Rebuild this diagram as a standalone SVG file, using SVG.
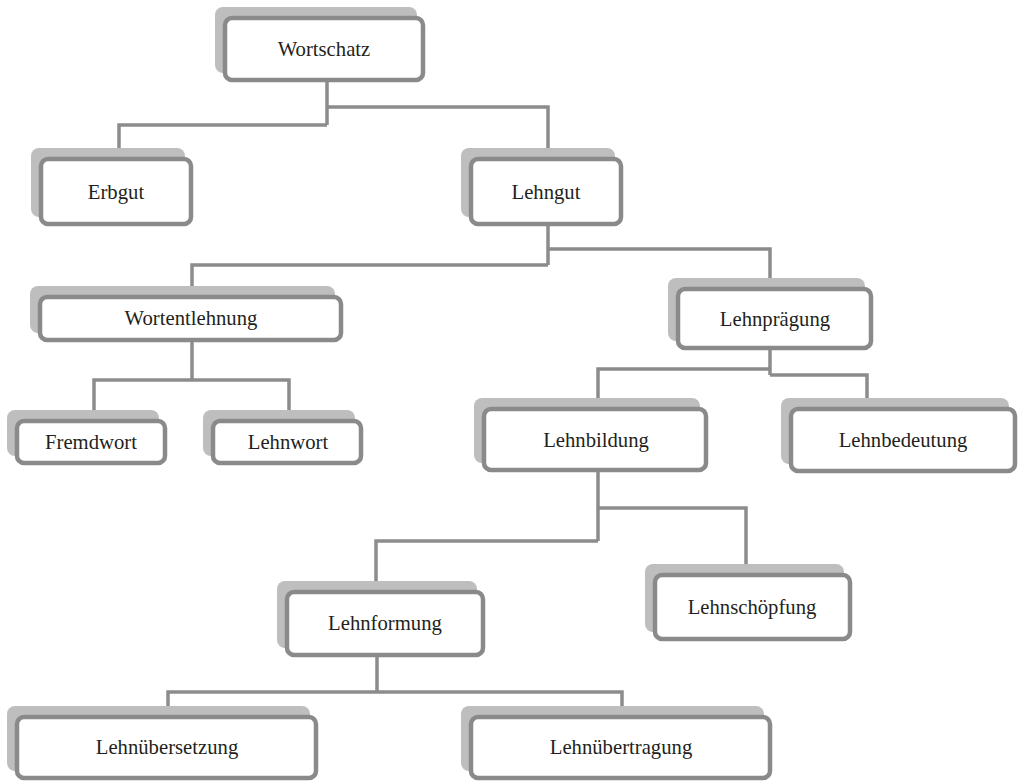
<svg xmlns="http://www.w3.org/2000/svg" width="1019" height="782" viewBox="0 0 1019 782">
<style>
.sh{fill:#bebebe;}
.bx{fill:#ffffff;stroke:#8a8a8a;stroke-width:4.5;}
.tx{font-family:"Liberation Serif","Times New Roman",serif;font-size:20.7px;fill:#231f20;text-anchor:middle;}
.cn{fill:none;stroke:#8c8c8c;stroke-width:3.5;}
</style>
<rect width="1019" height="782" fill="#ffffff"/>
<g id="connectors">
<path class="cn" d="M327 82V125M119 157V125H327M327 107H548V157"/>
<path class="cn" d="M548 226V265M192 295V265H548M548 249H770V287"/>
<path class="cn" d="M192 342V380M94 419V380H289V419"/>
<path class="cn" d="M770 350V375M598 407V369H770M770 375H867V407"/>
<path class="cn" d="M598 472V541M376 590V541H598M598 508H746V573"/>
<path class="cn" d="M377 657V692M168 715V692H622V715"/>
</g>
<g id="n-wortschatz"><rect class="sh" x="215" y="7" width="202" height="66" rx="8"/><rect class="bx" x="225" y="18" width="198" height="62" rx="7"/><text class="tx" x="324" y="56">Wortschatz</text></g>
<g id="n-erbgut"><rect class="sh" x="31" y="148" width="154" height="69" rx="8"/><rect class="bx" x="41" y="159" width="150" height="65" rx="7"/><text class="tx" x="116" y="199">Erbgut</text></g>
<g id="n-lehngut"><rect class="sh" x="461" y="148" width="154" height="69" rx="8"/><rect class="bx" x="471" y="159" width="150" height="65" rx="7"/><text class="tx" x="546" y="199">Lehngut</text></g>
<g id="n-wortentlehnung"><rect class="sh" x="30" y="286" width="305" height="47" rx="8"/><rect class="bx" x="40" y="297" width="301" height="43" rx="7"/><text class="tx" x="191" y="325">Wortentlehnung</text></g>
<g id="n-lehnpraegung"><rect class="sh" x="668" y="278" width="197" height="63" rx="8"/><rect class="bx" x="678" y="289" width="193" height="59" rx="7"/><text class="tx" x="775" y="326">Lehnprägung</text></g>
<g id="n-fremdwort"><rect class="sh" x="7" y="410" width="152" height="46" rx="8"/><rect class="bx" x="17" y="421" width="148" height="42" rx="7"/><text class="tx" x="91" y="449">Fremdwort</text></g>
<g id="n-lehnwort"><rect class="sh" x="203" y="410" width="152" height="46" rx="8"/><rect class="bx" x="213" y="421" width="148" height="42" rx="7"/><text class="tx" x="288" y="449">Lehnwort</text></g>
<g id="n-lehnbildung"><rect class="sh" x="474" y="398" width="226" height="65" rx="8"/><rect class="bx" x="484" y="409" width="222" height="61" rx="7"/><text class="tx" x="596" y="447">Lehnbildung</text></g>
<g id="n-lehnbedeutung"><rect class="sh" x="781" y="398" width="228" height="66" rx="8"/><rect class="bx" x="791" y="409" width="224" height="62" rx="7"/><text class="tx" x="903" y="447">Lehnbedeutung</text></g>
<g id="n-lehnformung"><rect class="sh" x="277" y="581" width="200" height="67" rx="8"/><rect class="bx" x="287" y="592" width="196" height="63" rx="7"/><text class="tx" x="385" y="630">Lehnformung</text></g>
<g id="n-lehnschoepfung"><rect class="sh" x="645" y="564" width="199" height="68" rx="8"/><rect class="bx" x="655" y="575" width="195" height="64" rx="7"/><text class="tx" x="752" y="614">Lehnschöpfung</text></g>
<g id="n-lehnuebersetzung"><rect class="sh" x="7" y="706" width="303" height="65" rx="8"/><rect class="bx" x="17" y="717" width="299" height="61" rx="7"/><text class="tx" x="167" y="754">Lehnübersetzung</text></g>
<g id="n-lehnuebertragung"><rect class="sh" x="461" y="706" width="303" height="65" rx="8"/><rect class="bx" x="471" y="717" width="299" height="61" rx="7"/><text class="tx" x="621" y="754">Lehnübertragung</text></g>
</svg>
